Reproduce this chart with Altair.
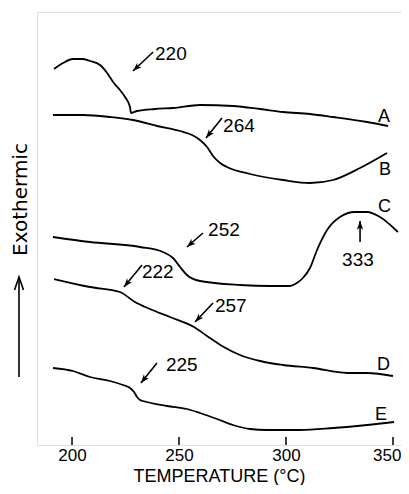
import altair as alt
import pandas as pd
import numpy as np

# ---- curve data: temperature (°C) vs relative DTA signal (arbitrary units) ----
a_temp = [191.6, 195.8, 200.5, 204.7, 208.4, 213.1, 216.4, 219.2, 222.4, 224.8, 227.1, 227.6,
          230.4, 238.8, 247.2, 259.8, 275.2, 287.9, 298.6, 311.2, 322.0, 337.9, 347.7]
a_sig = [380, 386, 390, 390, 388, 384, 376, 367, 359, 352, 342, 336,
         338, 340, 341, 344, 343, 340, 337, 335, 332, 327, 323]

b_temp = [191.1, 205.1, 217.8, 228.5, 239.7, 250.5, 256.1, 259.8, 263.1, 265.9, 269.2, 272.4,
          283.2, 298.6, 311.2, 322.0, 334.6, 347.2]
b_sig = [334, 334, 332, 329, 323, 318, 314, 309, 302, 293, 286, 282,
         275, 269, 266, 269, 281, 296]

c_temp = [191.1, 208.4, 231.8, 242.5, 247.2, 250.5, 253.7, 259.8, 278.5, 292.5, 301.9, 305.1,
          307.9, 311.2, 314.5, 319.2, 325.2, 332.2, 337.9, 343.9, 352.3]
c_sig = [212, 207, 202, 197, 191, 182, 174, 168, 164, 163, 163, 166,
         171, 181, 199, 219, 232, 237, 237, 232, 217]

d_temp = [191.6, 208.4, 222.4, 229.4, 236.4, 245.8, 257.0, 263.1, 270.1, 278.5, 287.9, 298.6,
          312.6, 328.5, 337.9, 350.0]
d_sig = [170, 162, 157, 147, 140, 132, 122, 113, 103, 94, 88, 84, 81, 76, 76, 73]

e_temp = [191.1, 200.5, 208.4, 217.8, 223.8, 227.1, 229.0, 230.4, 231.8, 233.2, 244.4, 253.7,
          259.8, 267.8, 275.2, 283.2, 291.1, 306.5, 322.0, 337.9, 350.5]
e_sig = [81, 78, 72, 68, 64, 61, 57, 52, 49, 48, 43, 40, 36, 30, 24, 20, 19, 19, 21, 24, 27]

# curve labels
curve_names = ["A", "B", "C", "D", "E"]
curve_lab_t = [343.0, 343.5, 343.0, 342.5, 341.6]
curve_lab_s = [332, 279, 242, 84, 34]

# annotations (transition temperatures)
ann_text = ["220", "264", "252", "333", "222", "257", "225"]
ann_t = [238.8, 270.6, 263.6, 326.2, 232.7, 266.8, 243.9]
ann_s = [395, 323, 219, 189, 177, 143.5, 84]
arrow_tail_t = [237.9, 270.1, 261.2, 334.6, 232.7, 265.9, 239.7]
arrow_tail_s = [397, 331, 216, 207, 184, 146, 86]
arrow_head_t = [228.5, 262.6, 253.7, 334.6, 224.3, 257.5, 232.2]
arrow_head_s = [378, 311, 202, 228, 162, 127, 66]

tick_values = [200, 250, 300, 350]

# ---- layout ----
W, H = 364, 433
x_dom = [183.64, 353.74]
y_dom = [4, 437]
px_per_t = W / (x_dom[1] - x_dom[0])
px_per_s = H / (y_dom[1] - y_dom[0])

frames = []
for name, t, s in zip(curve_names, [a_temp, b_temp, c_temp, d_temp, e_temp],
                      [a_sig, b_sig, c_sig, d_sig, e_sig]):
    frames.append(pd.DataFrame({"curve": name, "T": t, "S": s}))
curves = pd.concat(frames, ignore_index=True)

labels_df = pd.DataFrame({"label": curve_names, "T": curve_lab_t, "S": curve_lab_s})
ann_df = pd.DataFrame({"label": ann_text, "T": ann_t, "S": ann_s})

dx = (np.array(arrow_head_t) - np.array(arrow_tail_t)) * px_per_t
dy = -(np.array(arrow_head_s) - np.array(arrow_tail_s)) * px_per_s
angles = np.mod(np.degrees(np.arctan2(dx, -dy)), 360)
arrows_df = pd.DataFrame({"T": arrow_tail_t, "S": arrow_tail_s,
                          "T2": arrow_head_t, "S2": arrow_head_s, "angle": angles})
ticks_df = pd.DataFrame({"T": tick_values})
one = pd.DataFrame({"k": [0]})

xs = alt.Scale(domain=x_dom, nice=False, zero=False)
ys = alt.Scale(domain=y_dom, nice=False, zero=False)
xax = alt.Axis(values=tick_values, title="TEMPERATURE (°C)", ticks=False, domain=False,
               grid=False, labelFontSize=17, labelFont="Liberation Sans", labelColor="black",
               labelPadding=2, labelFlush=10, labelFlushOffset=8,
               titleFontSize=18, titleFont="Liberation Sans",
               titleFontWeight="normal", titleColor="black", titleY=36,
               titleBaseline="alphabetic")
yax = alt.Axis(title="Exothermic", labels=False, ticks=False, domain=False, grid=False,
               titleAngle=270, titleX=-17, titleY=187, titleAlign="center",
               titleBaseline="middle", titleFont="DejaVu Sans", titleFontSize=20,
               titleFontWeight="normal", titleColor="black")

X = lambda f: alt.X(f, type="quantitative", scale=xs, axis=xax)
Y = lambda f: alt.Y(f, type="quantitative", scale=ys, axis=yax)

lines = alt.Chart(curves).mark_line(color="black", strokeWidth=1.8, interpolate="monotone").encode(
    x=X("T"), y=Y("S"), detail="curve:N")

curve_labels = alt.Chart(labels_df).mark_text(align="left", baseline="middle", fontSize=18,
                                              font="Liberation Sans", color="black").encode(
    x=X("T"), y=Y("S"), text="label:N")

ann_labels = alt.Chart(ann_df).mark_text(align="left", baseline="middle", fontSize=19,
                                         font="Liberation Sans", color="black").encode(
    x=X("T"), y=Y("S"), text="label:N")

arrow_lines = alt.Chart(arrows_df).mark_rule(color="black", strokeWidth=1.6).encode(
    x=X("T"), y=Y("S"), x2="T2:Q", y2="S2:Q")

head_path = "M0,0L0.8,2.2L0,1.6L-0.8,2.2Z"
arrow_heads = alt.Chart(arrows_df).mark_point(shape=head_path, filled=True, size=64,
                                              color="black", opacity=1).encode(
    x=X("T2"), y=Y("S2"), angle=alt.Angle("angle:Q", scale=None))

ticks = alt.Chart(ticks_df).mark_rule(color="black", strokeWidth=1.5).encode(
    x=X("T"), y=alt.value(H - 8), y2=alt.value(H))

exo_line = alt.Chart(one).mark_rule(color="black", strokeWidth=1.6).encode(
    x=alt.value(-18), y=alt.value(265), y2=alt.value(365))
exo_head = alt.Chart(one).mark_point(shape="M-0.9,2.6L0,0L0.9,2.6", filled=False, size=100,
                                     color="black", opacity=1, strokeWidth=1.6).encode(
    x=alt.value(-18), y=alt.value(265))

chart = alt.layer(lines, curve_labels, ann_labels, arrow_lines, arrow_heads, ticks,
                  exo_line, exo_head).properties(
    width=W, height=H,
    padding={"left": 29, "top": 4, "right": 0, "bottom": 40},
    autosize=alt.AutoSizeParams(type="none"),
).configure_view(stroke="black", strokeWidth=1.5).configure(background="white")

chart.save("out.html", embed_options={"renderer": "svg", "actions": False})
